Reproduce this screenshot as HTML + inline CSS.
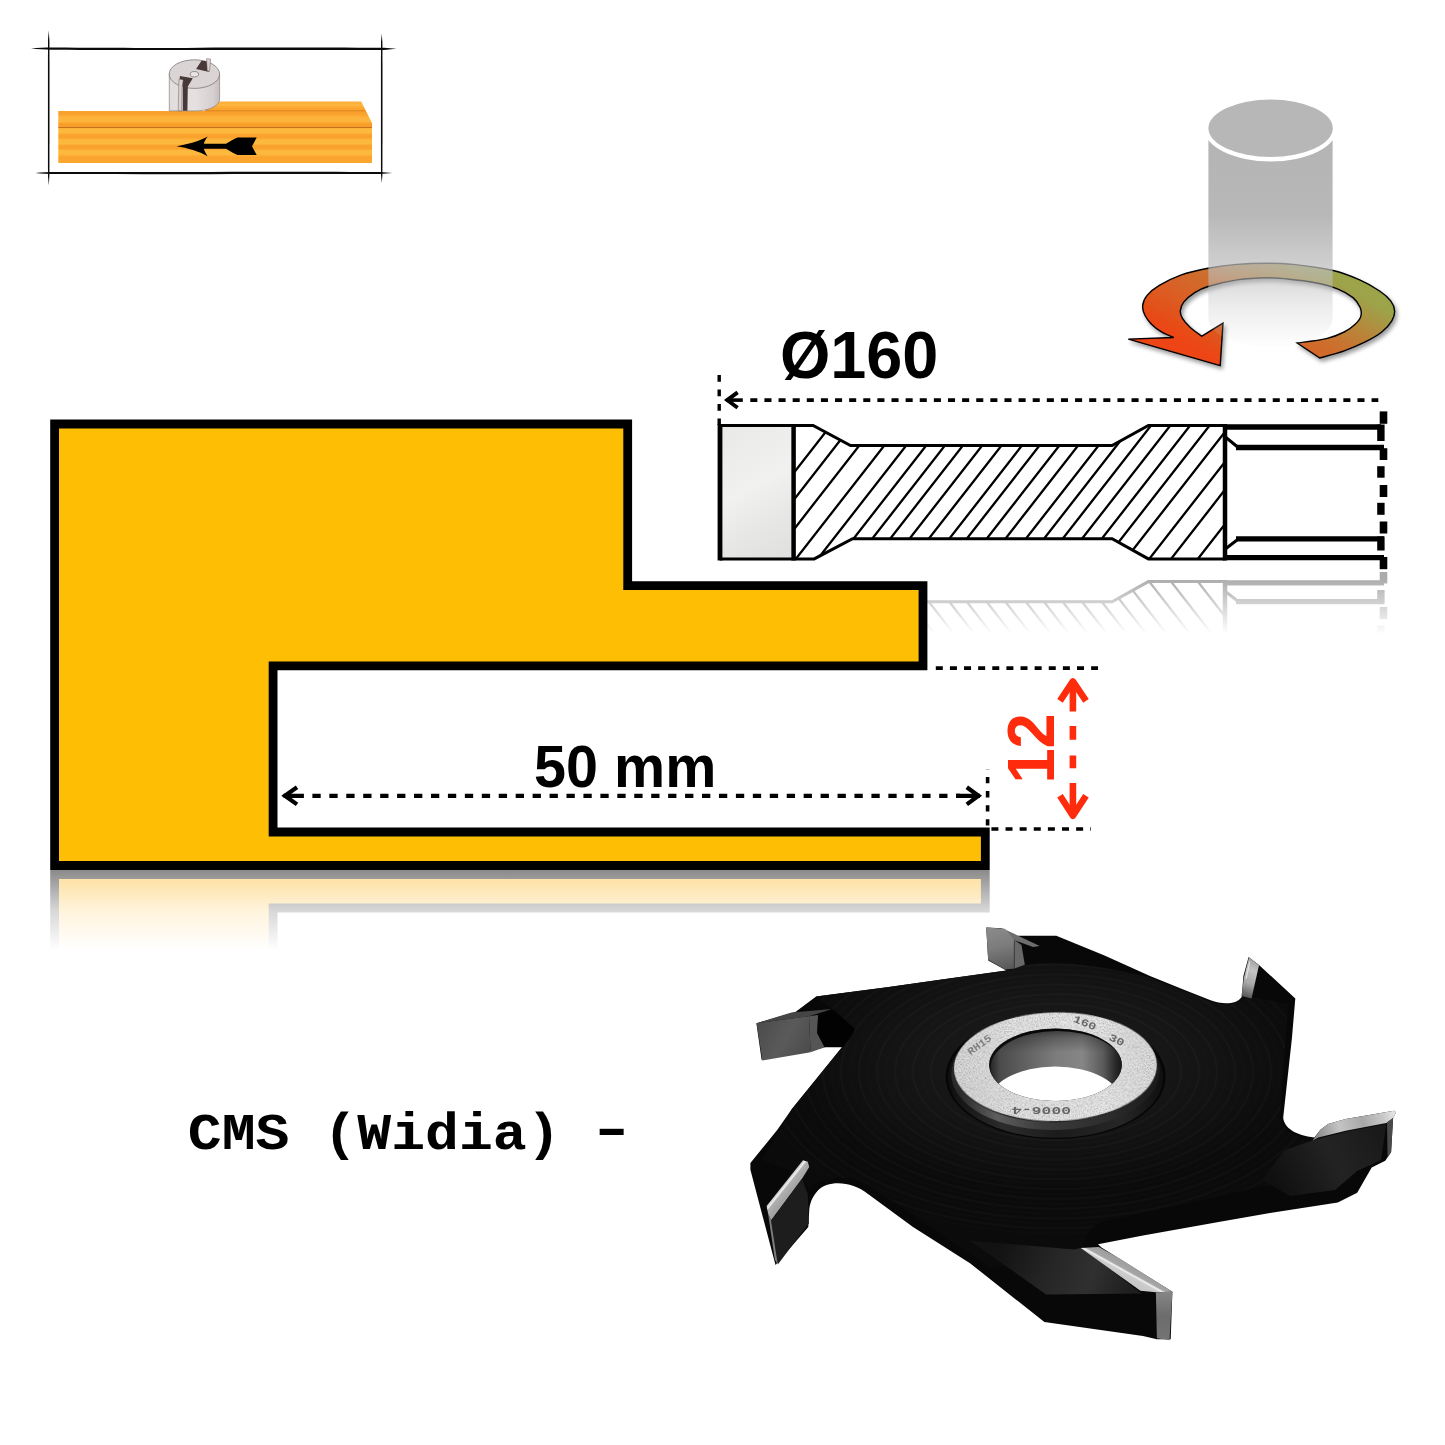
<!DOCTYPE html>
<html lang="en">
<head>
<meta charset="utf-8">
<title>CMS (Widia) - Ø160 50 mm 12</title>
<style>
html,body{margin:0;padding:0;background:#ffffff;}
body{width:1445px;height:1445px;overflow:hidden;position:relative;}
svg{position:absolute;left:0;top:0;display:block;}
.dim{font-family:"Liberation Sans","DejaVu Sans",sans-serif;font-weight:700;}
.mono{font-family:"Liberation Mono","DejaVu Sans Mono",monospace;font-weight:700;}
</style>
</head>
<body>
<svg width="1445" height="1445" viewBox="0 0 1445 1445">
<defs>
<path id="ywshape" d="M54.6,424 H627.7 V585.6 H923 V665.9 H273.1 V832 H985.3 V865.5 H54.6 Z"/>
<linearGradient id="ywfade" gradientUnits="userSpaceOnUse" x1="0" y1="870" x2="0" y2="950">
<stop offset="0" stop-color="#fff" stop-opacity="0.46"/>
<stop offset="0.5" stop-color="#fff" stop-opacity="0.16"/>
<stop offset="1" stop-color="#fff" stop-opacity="0"/>
</linearGradient>
<mask id="ywmask" maskUnits="userSpaceOnUse" x="0" y="860" width="1445" height="100">
<rect x="0" y="870" width="1445" height="85" fill="url(#ywfade)"/>
</mask>
<linearGradient id="tlfade" gradientUnits="userSpaceOnUse" x1="0" y1="578" x2="0" y2="634">
<stop offset="0" stop-color="#fff" stop-opacity="0.33"/>
<stop offset="1" stop-color="#fff" stop-opacity="0"/>
</linearGradient>
<mask id="tlmask" maskUnits="userSpaceOnUse" x="700" y="570" width="745" height="80">
<rect x="700" y="572" width="745" height="70" fill="url(#tlfade)"/>
</mask>
<clipPath id="hatchclip">
<path d="M793.6,425.5 H813.1 L850.5,445.6 H1112.1 L1148.4,425.5 H1225 V558.9 H1148.4 L1112.1,538.7 H852.6 L814.2,558.9 H793.6 Z"/>
</clipPath>
<linearGradient id="tipgrad" gradientUnits="userSpaceOnUse" x1="722" y1="430" x2="792" y2="555">
<stop offset="0" stop-color="#e9e9e7"/>
<stop offset="0.45" stop-color="#f1f1ef"/>
<stop offset="0.75" stop-color="#e6e6e4"/>
<stop offset="1" stop-color="#e0e0de"/>
</linearGradient>
<linearGradient id="ringgrad" gradientUnits="userSpaceOnUse" x1="1200" y1="352" x2="1290.6" y2="193">
<stop offset="0" stop-color="#ee4412"/>
<stop offset="0.1" stop-color="#e2521b"/>
<stop offset="0.25" stop-color="#d86228"/>
<stop offset="0.4" stop-color="#cb702e"/>
<stop offset="0.56" stop-color="#b48a3c"/>
<stop offset="0.7" stop-color="#9da34a"/>
<stop offset="1" stop-color="#98a84e"/>
</linearGradient>
<linearGradient id="cylgrad" gradientUnits="userSpaceOnUse" x1="0" y1="140" x2="0" y2="348">
<stop offset="0" stop-color="#b4b4b4" stop-opacity="1"/>
<stop offset="0.36" stop-color="#b8b8b8" stop-opacity="1"/>
<stop offset="0.6" stop-color="#bcbcbc" stop-opacity="0.72"/>
<stop offset="0.8" stop-color="#c4c4c4" stop-opacity="0.32"/>
<stop offset="1" stop-color="#d0d0d0" stop-opacity="0.02"/>
</linearGradient>
<filter id="ringshadow" x="-10%" y="-20%" width="120%" height="150%">
<feGaussianBlur in="SourceAlpha" stdDeviation="2.2" result="b"/>
<feOffset in="b" dx="1.5" dy="2.5" result="o"/>
<feComponentTransfer in="o" result="s"><feFuncA type="linear" slope="0.4"/></feComponentTransfer>
<feMerge><feMergeNode in="s"/><feMergeNode in="SourceGraphic"/></feMerge>
</filter>
<linearGradient id="woodgrad" gradientUnits="userSpaceOnUse" x1="0" y1="101" x2="0" y2="163">
<stop offset="0" stop-color="#fbab33"/>
<stop offset="0.06" stop-color="#fdb640"/>
<stop offset="0.12" stop-color="#fba52e"/>
<stop offset="0.2" stop-color="#f99f2c"/>
<stop offset="0.27" stop-color="#fdb43c"/>
<stop offset="0.33" stop-color="#fdb43c"/>
<stop offset="0.37" stop-color="#f99d2a"/>
<stop offset="0.42" stop-color="#f99d2a"/>
<stop offset="0.45" stop-color="#fdb83e"/>
<stop offset="0.51" stop-color="#fdb83e"/>
<stop offset="0.55" stop-color="#faa22c"/>
<stop offset="0.59" stop-color="#faa22c"/>
<stop offset="0.63" stop-color="#fdb83e"/>
<stop offset="0.69" stop-color="#fdb83e"/>
<stop offset="0.72" stop-color="#faa22c"/>
<stop offset="0.77" stop-color="#faa22c"/>
<stop offset="0.8" stop-color="#fdb83e"/>
<stop offset="0.86" stop-color="#fdb83e"/>
<stop offset="0.9" stop-color="#faa42e"/>
<stop offset="1" stop-color="#fba730"/>
</linearGradient>
<linearGradient id="mcyl" gradientUnits="userSpaceOnUse" x1="169" y1="0" x2="220" y2="0">
<stop offset="0" stop-color="#e2dcdc"/>
<stop offset="0.5" stop-color="#e6e1e1"/>
<stop offset="0.85" stop-color="#d6d0d0"/>
<stop offset="1" stop-color="#c4bebe"/>
</linearGradient>
<linearGradient id="ringface" gradientUnits="userSpaceOnUse" x1="955" y1="1080" x2="1157" y2="1050">
<stop offset="0" stop-color="#dadada"/>
<stop offset="0.3" stop-color="#e6e6e6"/>
<stop offset="0.7" stop-color="#eaeaea"/>
<stop offset="1" stop-color="#dedede"/>
</linearGradient>
<linearGradient id="hubwall" gradientUnits="userSpaceOnUse" x1="960" y1="0" x2="1160" y2="0">
<stop offset="0" stop-color="#2a2a2a"/>
<stop offset="0.18" stop-color="#5e5e5e"/>
<stop offset="0.4" stop-color="#3c3c3c"/>
<stop offset="0.7" stop-color="#2e2e2e"/>
<stop offset="1" stop-color="#1a1a1a"/>
</linearGradient>
<linearGradient id="hubwall2" gradientUnits="userSpaceOnUse" x1="950" y1="0" x2="1165" y2="0">
<stop offset="0" stop-color="#101010"/>
<stop offset="0.25" stop-color="#2c2c2c"/>
<stop offset="0.5" stop-color="#1c1c1c"/>
<stop offset="0.8" stop-color="#262626"/>
<stop offset="1" stop-color="#0e0e0e"/>
</linearGradient>
<linearGradient id="borewall" gradientUnits="userSpaceOnUse" x1="989" y1="0" x2="1122" y2="0">
<stop offset="0" stop-color="#202020"/>
<stop offset="0.08" stop-color="#4a4a4a"/>
<stop offset="0.25" stop-color="#5e5e5e"/>
<stop offset="0.5" stop-color="#7c7c7c"/>
<stop offset="0.7" stop-color="#868686"/>
<stop offset="0.86" stop-color="#5a5a5a"/>
<stop offset="0.95" stop-color="#2a2a2a"/>
<stop offset="1" stop-color="#161616"/>
</linearGradient>
<linearGradient id="boretop" gradientUnits="userSpaceOnUse" x1="0" y1="1028" x2="0" y2="1052">
<stop offset="0" stop-color="#000" stop-opacity="0.6"/>
<stop offset="0.4" stop-color="#000" stop-opacity="0.25"/>
<stop offset="1" stop-color="#000" stop-opacity="0"/>
</linearGradient>
<clipPath id="boreclip"><ellipse cx="1055.4" cy="1064.8" rx="66.4" ry="36.2"/></clipPath>
<radialGradient id="bodysheen" gradientUnits="userSpaceOnUse" cx="1050" cy="1060" r="260" gradientTransform="translate(0,530) scale(1,0.5)">
<stop offset="0" stop-color="#1d1d1d"/>
<stop offset="0.55" stop-color="#151515"/>
<stop offset="1" stop-color="#0b0b0b"/>
</radialGradient>
<linearGradient id="tipA" gradientUnits="userSpaceOnUse" x1="995" y1="928" x2="1005" y2="969">
<stop offset="0" stop-color="#8a8a8a"/><stop offset="0.45" stop-color="#7c7c7c"/><stop offset="1" stop-color="#5a5a5a"/>
</linearGradient>
<linearGradient id="tipB" gradientUnits="userSpaceOnUse" x1="757" y1="1025" x2="812" y2="1055">
<stop offset="0" stop-color="#4c4c4c"/><stop offset="0.5" stop-color="#5a5a5a"/><stop offset="1" stop-color="#4a4a4a"/>
</linearGradient>
<linearGradient id="tipC" gradientUnits="userSpaceOnUse" x1="775" y1="1180" x2="790" y2="1192">
<stop offset="0" stop-color="#d6d6d6"/><stop offset="0.55" stop-color="#cfcfcf"/><stop offset="0.62" stop-color="#f4f4f4"/><stop offset="0.7" stop-color="#b0b0b0"/><stop offset="1" stop-color="#a4a4a4"/>
</linearGradient>
<linearGradient id="tipD" gradientUnits="userSpaceOnUse" x1="1130" y1="1262" x2="1120" y2="1280">
<stop offset="0" stop-color="#9a9a9a"/><stop offset="0.42" stop-color="#a6a6a6"/><stop offset="0.5" stop-color="#f0f0f0"/><stop offset="0.6" stop-color="#cccccc"/><stop offset="1" stop-color="#c4c4c4"/>
</linearGradient>
<linearGradient id="tipE" gradientUnits="userSpaceOnUse" x1="1316" y1="1135" x2="1394" y2="1112">
<stop offset="0" stop-color="#8a8a8a"/><stop offset="0.3" stop-color="#c4c4c4"/><stop offset="0.6" stop-color="#a8a8a8"/><stop offset="0.85" stop-color="#c8c8c8"/><stop offset="1" stop-color="#e6e6e6"/>
</linearGradient>
<linearGradient id="tipF" gradientUnits="userSpaceOnUse" x1="1243" y1="995" x2="1256" y2="960">
<stop offset="0" stop-color="#5c5c5c"/><stop offset="0.35" stop-color="#a8a8a8"/><stop offset="0.7" stop-color="#c4c4c4"/><stop offset="1" stop-color="#a0a0a0"/>
</linearGradient>
<clipPath id="topclip"><path d="M816.1,996.5 L888.8,987 L940,979.7 L1006.4,970.6 L1021.4,966.4 C1040,960 1090,962 1150,978 L1210.6,1001.5 C1222,1005.5 1236,1006 1241.7,998 L1252,997 L1288,1004 L1280,1117.5 C1281,1129 1294,1137.5 1314.4,1139 L1345,1150 L1300,1178 L1220,1196 L1143,1213 L1101.5,1221.7 C1090,1228 1084,1236 1082.5,1246 L1040,1262 L990,1268 L913,1214 L868,1186 C850,1174 822,1176 810,1188 L790,1170 L762,1160 L791.9,1109 L843.8,1045 C852,1038 856,1031 854.2,1027.6 L834.3,1010.3 Z"/></clipPath>
<clipPath id="tlclip"><rect x="927" y="570" width="518" height="80"/></clipPath>
<linearGradient id="tipD2" gradientUnits="userSpaceOnUse" x1="0" y1="1292" x2="0" y2="1340">
<stop offset="0" stop-color="#868686"/><stop offset="0.5" stop-color="#6c6c6c"/><stop offset="1" stop-color="#747474"/>
</linearGradient>
<linearGradient id="armD" gradientUnits="userSpaceOnUse" x1="1000" y1="1245" x2="1130" y2="1295">
<stop offset="0" stop-color="#121212"/><stop offset="0.4" stop-color="#262626"/><stop offset="0.7" stop-color="#303030"/><stop offset="1" stop-color="#1e1e1e"/>
</linearGradient>
<linearGradient id="armE" gradientUnits="userSpaceOnUse" x1="1280" y1="1190" x2="1390" y2="1130">
<stop offset="0" stop-color="#101010"/><stop offset="0.5" stop-color="#232323"/><stop offset="1" stop-color="#181818"/>
</linearGradient>
<filter id="grain" x="0" y="0" width="100%" height="100%">
<feTurbulence type="fractalNoise" baseFrequency="0.75" numOctaves="2" seed="7" result="n"/>
<feColorMatrix in="n" type="matrix" values="0 0 0 0 0  0 0 0 0 0  0 0 0 0 0  1.1 0 0 0 -0.42" result="a"/>
<feComposite in="a" in2="SourceAlpha" operator="in" result="g"/>
<feMerge><feMergeNode in="SourceGraphic"/><feMergeNode in="g"/></feMerge>
</filter>
</defs>
<rect width="1445" height="1445" fill="#ffffff"/>
<!-- reflections -->
<g mask="url(#ywmask)">
<use href="#ywshape" fill="#fdb41c" stroke="#000" stroke-width="8.8" transform="translate(0,1740) scale(1,-1)"/>
</g>
<g mask="url(#tlmask)" clip-path="url(#tlclip)">
<use href="#toolprof" transform="translate(0,1140.5) scale(1,-1)"/>
</g>
<!-- yellow -->
<use href="#ywshape" fill="#fdbe03" stroke="#000" stroke-width="8.8" stroke-linejoin="miter"/>
<!-- tool -->
<g id="toolprof">
<rect x="720" y="426" width="73" height="132" fill="url(#tipgrad)"/>
<path d="M835.0,420 L721.9,565 M856.0,420 L742.9,565 M879.2,420 L766.1,565 M904.2,420 L791.1,565 M926.1,420 L813.0,565 M946.1,420 L833.0,565 M964.8,420 L851.7,565 M982.8,420 L869.7,565 M1002.1,420 L889.0,565 M1021.4,420 L908.3,565 M1041.9,420 L928.8,565 M1059.4,420 L946.3,565 M1079.3,420 L966.2,565 M1098.0,420 L984.9,565 M1118.5,420 L1005.4,565 M1136.6,420 L1023.5,565 M1155.3,420 L1042.2,565 M1174.6,420 L1061.5,565 M1194.4,420 L1081.3,565 M1213.9,420 L1100.8,565 M1234.2,420 L1121.1,565 M1257.6,420 L1144.5,565 M1279.4,420 L1166.3,565 M1306.2,420 L1193.1,565" stroke="#000" stroke-width="2.3" fill="none" clip-path="url(#hatchclip)"/>
<path d="M720,425.5 H813.1 L850.5,445.6 H1112.1 L1148.4,425.5 H1225 M720,558.9 H814.2 L852.6,538.7 H1112.1 L1148.4,558.9 H1225" fill="none" stroke="#000" stroke-width="3" stroke-linejoin="miter"/>
<path d="M720,424 V560.4" stroke="#000" stroke-width="4.8" fill="none"/>
<path d="M793.6,424 V560.4 M1225,424 V560.4" stroke="#000" stroke-width="4.5" fill="none"/>
<path d="M1225,427 H1381 M1236,447.5 H1384 M1236,538.9 H1384 M1225,557.6 H1384" stroke="#000" stroke-width="5.3" fill="none"/>
<path d="M1226,437.5 L1237,446.5 M1226,548.5 L1237,540" stroke="#000" stroke-width="3" fill="none"/>
<g fill="#000">
<rect x="1379.7" y="411.4" width="7.6" height="12.4"/>
<rect x="1377.2" y="424.5" width="7.4" height="16.5"/>
<rect x="1379.7" y="448.2" width="7.6" height="11.8"/>
<rect x="1377.2" y="466.2" width="7.4" height="11.5"/>
<rect x="1379.7" y="485" width="7.6" height="12"/>
<rect x="1377.2" y="502.8" width="7.4" height="12"/>
<rect x="1379.7" y="521.5" width="7.6" height="12"/>
<rect x="1377.2" y="536.5" width="7.4" height="14"/>
<rect x="1379.7" y="557" width="7.6" height="12.2"/>
</g>
</g>
<!-- dims -->
<g fill="none" stroke="#000">
<!-- diameter dimension -->
<path d="M750.3,400.1 H1378.3" stroke-width="3.6" stroke-dasharray="7.06 7.06"/>
<path d="M726,400.1 H742.8" stroke-width="3.6"/>
<path d="M737.6,392.4 L727.2,400.1 L737.6,407.8" stroke-width="3.9" stroke-linejoin="miter" stroke-miterlimit="10"/>
<path d="M719.2,425 V368.5" stroke-width="3.4" stroke-dasharray="6.6 7.9" stroke-dashoffset="0.2"/>
<!-- extension lines -->
<path d="M935.8,668.1 H1098" stroke-width="3.6" stroke-dasharray="7 7.12"/>
<path d="M991.4,829 H1090.9" stroke-width="3.6" stroke-dasharray="7 7.12"/>
<path d="M987.6,825.6 V769" stroke-width="3.6" stroke-dasharray="6.3 7.8"/>
<!-- 50 mm dimension -->
<path d="M312.4,795.8 H960" stroke-width="4.2" stroke-dasharray="8.3 8.64"/>
<path d="M283.5,795.8 H303.9 M956.1,795.8 H980" stroke-width="4.2"/>
<path d="M297,787.2 L284.9,795.8 L297,804.4" stroke-width="4.2" stroke-linejoin="miter" stroke-miterlimit="10"/>
<path d="M966.8,787.2 L978.5,795.8 L966.8,804.4" stroke-width="4.2" stroke-linejoin="miter" stroke-miterlimit="10"/>
</g>
<!-- red 12 dimension -->
<g fill="none" stroke="#fe2b0c" stroke-width="6.6">
<path d="M1072.9,682 V711.6 M1072.9,726.1 V739.7 M1072.9,755.5 V768.3 M1072.9,782.9 V815"/>
<path d="M1060,700.8 L1072.9,681.4 L1086,700.8" stroke-linejoin="round"/>
<path d="M1060,795.7 L1072.9,815.8 L1086,795.7" stroke-linejoin="round"/>
</g>
<text class="dim" x="779.9" y="377.8" font-size="67" textLength="158.4" lengthAdjust="spacingAndGlyphs" fill="#000">Ø160</text>
<text class="dim" x="534.1" y="786.9" font-size="59" textLength="182.2" lengthAdjust="spacingAndGlyphs" fill="#000">50 mm</text>
<text class="dim" transform="translate(1053.5,783.6) rotate(-90)" x="0" y="0" font-size="67" textLength="70.3" lengthAdjust="spacingAndGlyphs" fill="#fe2b0c">12</text>
<!-- rotation -->
<g filter="url(#ringshadow)">
<path d="M1319.8,358.0 C1323.9,356.8 1336.6,353.5 1344.2,350.8 C1351.8,348.1 1358.9,345.0 1365.2,341.9 C1371.5,338.8 1377.4,335.5 1381.8,332.0 C1386.2,328.5 1389.7,324.4 1391.8,320.9 C1393.9,317.4 1394.8,314.2 1394.6,310.9 C1394.4,307.6 1393.2,304.2 1390.7,300.9 C1388.2,297.6 1384.8,294.5 1379.6,291.0 C1374.4,287.5 1367.5,283.3 1359.7,279.9 C1352.0,276.5 1344.2,273.1 1333.1,270.5 C1322.0,267.9 1304.2,265.6 1293.2,264.4 C1282.2,263.2 1276.4,263.2 1267.0,263.2 C1257.6,263.2 1246.6,263.5 1236.8,264.4 C1227.0,265.2 1217.2,266.6 1208.0,268.3 C1198.8,270.1 1189.5,272.0 1181.4,274.9 C1173.3,277.8 1165.0,282.0 1159.3,285.4 C1153.6,288.8 1149.9,292.1 1147.1,295.4 C1144.3,298.7 1143.1,302.1 1142.7,305.4 C1142.3,308.7 1143.4,312.2 1144.9,315.3 C1146.4,318.4 1148.7,321.4 1151.5,324.2 C1154.3,327.0 1157.8,329.7 1161.5,331.9 C1165.2,334.1 1171.7,336.6 1173.7,337.5 L1128.3,339.1 L1220.2,365.7 L1223,323.1 L1201.9,336.2 C1200.0,334.8 1193.5,330.4 1190.3,327.5 C1187.1,324.6 1184.3,321.5 1182.6,318.7 C1180.9,315.9 1180.1,313.7 1180.3,310.9 C1180.5,308.1 1181.3,305.2 1183.7,302.1 C1186.1,299.1 1190.7,295.2 1194.7,292.6 C1198.8,290.0 1201.0,288.6 1208.0,286.5 C1215.0,284.4 1227.0,281.4 1236.8,279.9 C1246.6,278.4 1258.5,277.8 1267.0,277.7 C1275.5,277.6 1279.6,278.2 1287.7,279.0 C1295.8,279.8 1307.1,281.1 1315.4,282.7 C1323.7,284.3 1331.2,286.3 1337.5,288.8 C1343.8,291.3 1349.2,294.5 1353.0,297.6 C1356.8,300.7 1358.9,304.5 1360.2,307.6 C1361.5,310.7 1361.6,313.6 1360.8,316.4 C1360.0,319.2 1358.0,321.6 1355.2,324.2 C1352.4,326.8 1349.0,329.6 1344.2,332.0 C1339.4,334.4 1334.2,336.8 1326.4,338.6 C1318.6,340.4 1302.0,342.3 1297.1,343.0 Z" fill="url(#ringgrad)" stroke="#000" stroke-width="1.4" stroke-linejoin="miter"/>
</g>
<path d="M1208.4,128.3 V318.5 A62.1,29 0 0 0 1332.6,318.5 V128.3 Z" fill="url(#cylgrad)"/>
<ellipse cx="1270.6" cy="128.4" rx="66.6" ry="33.1" fill="#ffffff"/>
<ellipse cx="1270.6" cy="128.3" rx="62.2" ry="28.7" fill="#b7b7b7"/>
<!-- mini -->
<g>
<!-- wood board -->
<path d="M58.3,110.9 H205 V101.6 H361.2 L372,123 V163 H58.3 Z" fill="url(#woodgrad)"/>
<path d="M205,110.8 H365.6" stroke="#c8741c" stroke-width="0.8" fill="none" opacity="0.85"/>
<path d="M58.3,127.5 H372" stroke="#b5651a" stroke-width="0.9" fill="none" opacity="0.9"/>
<!-- small cutter -->
<path d="M169.3,74 V110.9 H196 C210,110.6 219.6,105.5 219.6,99 V74 Z" fill="url(#mcyl)" stroke="#8a8484" stroke-width="0.7"/>
<ellipse cx="194.4" cy="74.1" rx="25.2" ry="14.3" fill="#dad4d4" stroke="#7d7777" stroke-width="0.8"/>
<path d="M196.1,69.1 L201.5,60.8 L206.9,61.2 L207.3,70.3 L209.4,72 Z" fill="#483838"/>
<path d="M206.5,58.7 L210.6,59.1 L209.4,71.6 L207.3,69.9 Z" fill="#dcd0d0" stroke="#6a6060" stroke-width="0.5"/>
<ellipse cx="194.4" cy="74.2" rx="4.2" ry="2.7" fill="#e8e4e4" stroke="#6f6868" stroke-width="0.7"/>
<path d="M179.9,76.1 L192.8,78.2 L187.8,86.5 L187.4,110.8 L182.8,110.8 L182.8,86.5 L179.1,84.9 Z" fill="#483838"/>
<path d="M179.1,79.1 L183.2,79.9 L182,88.2 L181.6,110.8 L178.2,110.8 L178.7,88.2 Z" fill="#dcd2d2" stroke="#6a6060" stroke-width="0.5"/>
<!-- feed arrow -->
<path d="M176.4,146.2 C188,144.5 199,141.5 207.6,136.6 C205.6,139.6 204.3,141.8 203.9,143.7 H226 C230,141.5 234,138.8 237.5,137.6 H256.7 L252,146.2 L256.7,155 H237.5 C234,153.6 230,151 226,148.8 H203.9 C204.3,150.8 205.6,153.2 207.6,156.3 C199,151.2 188,148 176.4,146.2 Z" fill="#000"/>
<!-- sketch frame -->
<path d="M31,48.5 C38,47.9 44,47.6 52,47.6 C110,47.9 150,48.3 200,47.7 C270,47.4 330,47.6 384,47.8 L396.5,48.8 L384,49.9 C330,50.1 270,49.8 200,50 C150,50.3 110,50 52,49.7 C44,49.6 38,49.2 31,48.5 Z" fill="#0b0b0b"/>
<path d="M35.2,173 C42,172.4 48,172.1 56,172.1 C110,172 160,172.3 210,171.9 C270,171.7 330,172 380,172 L392.4,172.9 L380,174 C330,174.1 270,174 210,174.2 C160,174.4 110,174.1 56,174.1 C48,174 42,173.7 35.2,173 Z" fill="#0b0b0b"/>
<path d="M48.7,30.4 L49.4,40 C49.6,80 49.5,140 49.4,176 L48.8,185.4 L48,176 C47.9,140 47.9,80 48,40 Z" fill="#0b0b0b"/>
<path d="M381.7,33.8 L382.4,42 C382.6,80 382.5,140 382.4,175 L381.8,183.3 L381,175 C380.9,140 380.9,80 381,42 Z" fill="#0b0b0b"/>
</g>
<!-- cutter -->
<g id="cutter">
<!-- silhouette -->
<path d="M986.2,927.4 L1001.5,928.2 L1015.6,935.7 L1056.3,935.7 L1104.5,955.6 L1150,976.1 L1184.6,990 L1210.6,1000.3 C1222,1004.5 1236,1005 1241.7,996.9 L1243.4,976.1 L1248.6,957.1 L1259,964.9 L1295.3,998.6 L1291.9,1038.4 L1283.2,1117.5 C1284,1128 1296,1135.5 1314.4,1137.4 L1320.4,1129.7 L1328.1,1123.9 L1345.6,1119.1 L1394,1110.8 L1396,1112.3 L1393.1,1118.1 L1391.1,1152 L1385.3,1160.7 L1371.7,1167.5 L1357.2,1192.7 L1337.8,1202.4 L1270,1213.1 L1220,1221.7 L1143,1235.5 L1098,1244.2 L1101.5,1247.6 L1172.4,1291.8 L1170.7,1339.3 L1156.9,1339.3 L1143,1335.9 L1044.4,1322 L970,1263.2 L913,1226.9 L868,1194 C852,1181 828,1180 817.9,1190.6 C812,1197 809.5,1204 809.2,1211.3 L808.3,1227 L775.5,1265 L750.4,1169.8 L750.4,1162.9 L777.2,1130 L791.9,1109 L843.8,1045 L826.5,1046.7 L810.9,1051 L761.6,1059.7 L756.4,1023.3 L795.4,1012.1 L816.1,996.5 L888.8,987 L940,979.7 L1006.4,970.6 L988.2,960.6 Z" fill="#080808"/>
<!-- top face sheen -->
<path d="M816.1,996.5 L888.8,987 L940,979.7 L1006.4,970.6 L1021.4,966.4 C1040,960 1090,962 1150,978 L1210.6,1001.5 C1222,1005.5 1236,1006 1241.7,998 L1252,997 L1288,1004 L1280,1117.5 C1281,1129 1294,1137.5 1314.4,1139 L1345,1150 L1300,1178 L1220,1196 L1143,1213 L1101.5,1221.7 C1090,1228 1084,1236 1082.5,1246 L1040,1262 L990,1268 L913,1214 L868,1186 C850,1174 822,1176 810,1188 L790,1170 L762,1160 L791.9,1109 L843.8,1045 C852,1038 856,1031 854.2,1027.6 L834.3,1010.3 Z" fill="url(#bodysheen)"/>
<g clip-path="url(#topclip)">
<ellipse cx="1056" cy="1072" rx="125" ry="68.1" fill="none" stroke="#ffffff" stroke-opacity="0.022" stroke-width="2.2"/>
<ellipse cx="1056" cy="1072" rx="134" ry="73.0" fill="none" stroke="#ffffff" stroke-opacity="0.011" stroke-width="2.2"/>
<ellipse cx="1056" cy="1072" rx="143" ry="77.9" fill="none" stroke="#ffffff" stroke-opacity="0.022" stroke-width="2.2"/>
<ellipse cx="1056" cy="1072" rx="152" ry="82.8" fill="none" stroke="#ffffff" stroke-opacity="0.011" stroke-width="2.2"/>
<ellipse cx="1056" cy="1072" rx="161" ry="87.7" fill="none" stroke="#ffffff" stroke-opacity="0.022" stroke-width="2.2"/>
<ellipse cx="1056" cy="1072" rx="170" ry="92.7" fill="none" stroke="#ffffff" stroke-opacity="0.011" stroke-width="2.2"/>
<ellipse cx="1056" cy="1072" rx="179" ry="97.6" fill="none" stroke="#ffffff" stroke-opacity="0.022" stroke-width="2.2"/>
<ellipse cx="1056" cy="1072" rx="188" ry="102.5" fill="none" stroke="#ffffff" stroke-opacity="0.011" stroke-width="2.2"/>
<ellipse cx="1056" cy="1072" rx="197" ry="107.4" fill="none" stroke="#ffffff" stroke-opacity="0.022" stroke-width="2.2"/>
<ellipse cx="1056" cy="1072" rx="206" ry="112.3" fill="none" stroke="#ffffff" stroke-opacity="0.011" stroke-width="2.2"/>
<ellipse cx="1056" cy="1072" rx="215" ry="117.2" fill="none" stroke="#ffffff" stroke-opacity="0.022" stroke-width="2.2"/>
<ellipse cx="1056" cy="1072" rx="224" ry="122.1" fill="none" stroke="#ffffff" stroke-opacity="0.011" stroke-width="2.2"/>
<ellipse cx="1056" cy="1072" rx="233" ry="127.0" fill="none" stroke="#ffffff" stroke-opacity="0.022" stroke-width="2.2"/>
<ellipse cx="1056" cy="1072" rx="242" ry="131.9" fill="none" stroke="#ffffff" stroke-opacity="0.011" stroke-width="2.2"/>
<ellipse cx="1056" cy="1072" rx="251" ry="136.8" fill="none" stroke="#ffffff" stroke-opacity="0.022" stroke-width="2.2"/>
<ellipse cx="1056" cy="1072" rx="260" ry="141.7" fill="none" stroke="#ffffff" stroke-opacity="0.011" stroke-width="2.2"/>
<ellipse cx="1056" cy="1072" rx="269" ry="146.6" fill="none" stroke="#ffffff" stroke-opacity="0.022" stroke-width="2.2"/>
<ellipse cx="1056" cy="1072" rx="278" ry="151.5" fill="none" stroke="#ffffff" stroke-opacity="0.011" stroke-width="2.2"/>
<ellipse cx="1056" cy="1072" rx="287" ry="156.4" fill="none" stroke="#ffffff" stroke-opacity="0.022" stroke-width="2.2"/>
<ellipse cx="1056" cy="1072" rx="296" ry="161.3" fill="none" stroke="#ffffff" stroke-opacity="0.011" stroke-width="2.2"/>
</g>
<!-- hub -->
<ellipse cx="1055.6" cy="1076.5" rx="110" ry="62.5" fill="#060606"/>
<ellipse cx="1055.6" cy="1077.2" rx="107.6" ry="60.6" fill="url(#hubwall2)"/>
<ellipse cx="1055.5" cy="1072.6" rx="104.2" ry="57.4" fill="url(#hubwall)" transform="rotate(-1.2 1055.4 1072.6)"/>
<ellipse cx="1055.4" cy="1067.4" rx="102" ry="55" fill="#2a2a2a" transform="rotate(-1.2 1055.4 1067.4)"/>
<ellipse cx="1055.4" cy="1066.7" rx="101.4" ry="54.3" fill="url(#ringface)" transform="rotate(-1.2 1055.4 1066.7)" filter="url(#grain)"/>
<ellipse cx="1055.4" cy="1064.8" rx="66.4" ry="36.2" fill="#0e0e0e"/>
<g clip-path="url(#boreclip)"><ellipse cx="1057" cy="1067.6" rx="66.4" ry="36.6" fill="url(#borewall)"/></g>
<g clip-path="url(#boreclip)">
<rect x="985" y="1026" width="142" height="30" fill="url(#boretop)"/>
<ellipse cx="1055.2" cy="1102.7" rx="66.4" ry="36.2" fill="#ffffff"/>
</g>
<!-- engraved markings -->
<g font-family="'Liberation Mono','DejaVu Sans Mono',monospace" font-weight="700" fill="#4a4a4a" font-size="10.5" opacity="0.8">
<text transform="translate(1072.5,1021.5) rotate(22)" textLength="24" lengthAdjust="spacingAndGlyphs">160</text>
<text transform="translate(1108,1039.5) rotate(26)" textLength="16" lengthAdjust="spacingAndGlyphs">30</text>
<text transform="translate(1071,1106.6) rotate(180)" textLength="59" lengthAdjust="spacingAndGlyphs" font-size="11.5">0006-4</text>
<text transform="translate(970.5,1055.5) rotate(-36)" textLength="27" lengthAdjust="spacingAndGlyphs" opacity="0.75">RH15</text>
</g>
<!-- tooth arm faces -->
<path d="M970,1240.7 L1073.8,1249.4 L1082.5,1247.6 L1141.3,1293.5 L1046.1,1294.4 Z" fill="url(#armD)"/>
<path d="M1312.6,1140.4 L1345.6,1131.7 L1386.3,1124 L1381,1160 L1357,1171 L1335,1190 L1290,1196 L1262,1180 L1285,1150 Z" fill="url(#armE)"/>
<!-- carbide tips -->
<path d="M1001.5,927.9 L1014.8,934.1 L1039.7,946.1 L1033.1,947 L1014.8,940.3 Z" fill="#6e6e6e"/>
<path d="M986.2,927.4 L1004.9,928.7 L1014.8,940.3 L1014.4,968.6 L1004.9,969.4 L988.2,959.8 Z" fill="url(#tipA)"/>
<path d="M1014.8,940.3 L1021.5,944.9 L1024.8,964.8 L1014.4,968.6 Z" fill="#686868"/>
<path d="M1014.4,940.6 L1014.2,968.4" stroke="#3a3a3a" stroke-width="0.9" fill="none"/>
<path d="M756.6,1023.2 L791.5,1012.4 L832.2,1009.1 L809,1016.2 Z" fill="#454545"/>
<path d="M756.6,1023.2 L809,1016.2 L810.6,1052.3 L762.4,1060.6 Z" fill="url(#tipB)"/>
<path d="M809,1016.2 L818.1,1014.9 L817.3,1033.2 L824.7,1047.3 L810.6,1052.3 Z" fill="#555555"/>
<path d="M818.1,1014.9 L832.2,1009.1 L854.6,1029 L843,1047.3 L824.7,1047.3 L817.3,1033.2 Z" fill="#020202"/>
<path d="M766.6,1205.9 L803,1160.3 L807.8,1161.8 L809.2,1167.1 L806.8,1171 L802,1178.7 L771,1220.4 L768.1,1213.6 Z" fill="url(#tipC)"/>
<path d="M771,1220.4 L802,1178.7 L807.8,1194.2 L808.8,1223.3 L777.8,1264.5 Z" fill="#1d1d1d"/>
<path d="M768.1,1213.6 L771,1220.4 L777.8,1264.5 L774.9,1259.7 Z" fill="#7c7c7c"/>
<path d="M1080.8,1248.1 L1098.8,1247.1 L1120.1,1258.8 L1172.4,1291.7 L1155.9,1292.2 L1140.4,1290.7 Z" fill="url(#tipD)"/>
<path d="M1155.9,1292.2 L1172.4,1291.7 L1169.5,1340.2 L1156.9,1338.2 Z" fill="url(#tipD2)"/>
<path d="M1312.6,1140.4 L1320.4,1129.7 L1328.1,1123.9 L1345.6,1119.1 L1394,1110.8 L1396,1112.3 L1393.1,1118.1 L1386.3,1122.9 L1345.6,1130.7 L1318.4,1137.5 Z" fill="url(#tipE)"/>
<path d="M1393.1,1118.1 L1391.1,1152 L1387.6,1157.5 L1387,1122.5 Z" fill="#4a4a4a"/>
<path d="M1241.5,995.9 L1244,977.2 L1249,957.3 L1259,965.3 L1251.5,998.4 Z" fill="url(#tipF)"/>
<path d="M1246.2,978.5 L1249.8,961.5" stroke="#f2f2f2" stroke-width="1.1" fill="none" opacity="0.8"/>
</g>
<!-- label -->
<text class="mono" transform="translate(187.75,1148.5) scale(1,0.93)" x="0" y="0" font-size="56.5" fill="#000" xml:space="preserve">CMS (Widia)</text>
<text class="mono" transform="translate(586.2,1145.2) scale(1.5,0.93)" x="0" y="0" font-size="56.5" fill="#000">-</text>
</svg>
</body>
</html>
